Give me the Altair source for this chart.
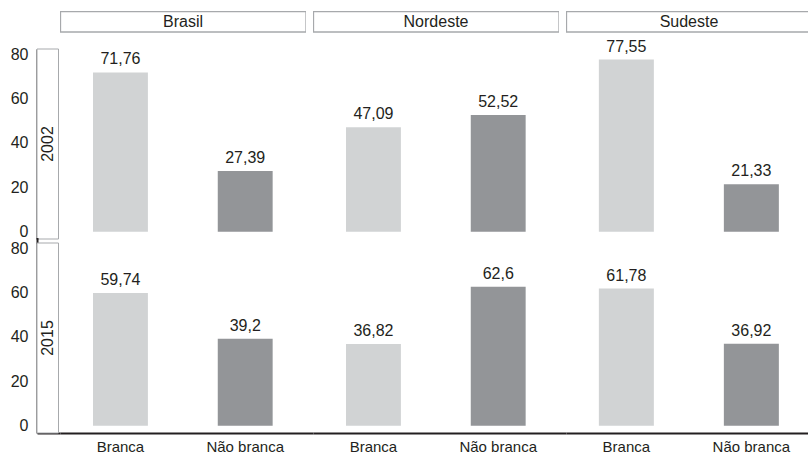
import altair as alt
import pandas as pd

# Share of population by colour group, per region and year
regioes = ["Brasil", "Nordeste", "Sudeste"]
anos = ["2002", "2015"]
grupos = ["Branca", "Não branca"]

brasil_2002 = [71.76, 27.39]
nordeste_2002 = [47.09, 52.52]
sudeste_2002 = [77.55, 21.33]
brasil_2015 = [59.74, 39.2]
nordeste_2015 = [36.82, 62.6]
sudeste_2015 = [61.78, 36.92]

series = {
    ("Brasil", "2002"): brasil_2002,
    ("Nordeste", "2002"): nordeste_2002,
    ("Sudeste", "2002"): sudeste_2002,
    ("Brasil", "2015"): brasil_2015,
    ("Nordeste", "2015"): nordeste_2015,
    ("Sudeste", "2015"): sudeste_2015,
}

rows = []
for (reg, ano), vals in series.items():
    for g, v in zip(grupos, vals):
        rows.append({"regiao": reg, "ano": ano, "grupo": g, "valor": v,
                     "rotulo": f"{v:g}".replace(".", ",")})
df = pd.DataFrame(rows)

INK = "#231f20"
LIGHT = "#d1d3d4"
DARK = "#939598"
BOX = "#a7a9ac"
FONT = "Liberation Sans"
FS = 16
FS_X = 15

PANEL_H = 190
ROW_GAP = 4
HEAD_H = 34        # header cell: 21px box plus the gap above the first row
LABEL_W = 23
Y_DOMAIN = [-3.3, 82.3]
y_scale = alt.Scale(domain=Y_DOMAIN, nice=False, zero=False)


def panel(reg, ano, width, bottom, outer, align):
    d = df[(df.regiao == reg) & (df.ano == ano)]
    if bottom:
        x_axis = alt.Axis(title=None, labelAngle=0, ticks=False, domain=True,
                          domainColor=INK, domainWidth=2, labelFontSize=FS_X,
                          labelPadding=6, labelColor=INK, labelFont=FONT)
    else:
        x_axis = None
    x = alt.X("grupo:N", sort=grupos, axis=x_axis,
              scale=alt.Scale(domain=grupos, paddingInner=0.56,
                              paddingOuter=outer, align=align))
    y = alt.Y("valor:Q", scale=y_scale, axis=None)
    base = alt.Chart(d)
    bars = base.mark_bar().encode(
        x=x, y=y, y2=alt.datum(0),
        color=alt.Color("grupo:N", scale=alt.Scale(domain=grupos, range=[LIGHT, DARK]),
                        legend=None),
    )
    text = base.mark_text(baseline="bottom", dy=-5, fontSize=FS, font=FONT,
                          color=INK).encode(x=x, y=y, text="rotulo:N")
    return alt.layer(bars, text).properties(width=width, height=PANEL_H)


def row_label(ano, bottom):
    d = pd.DataFrame({"ano": [ano]})
    y = alt.YDatum(sum(Y_DOMAIN) / 2, type="quantitative", scale=y_scale,
                   axis=alt.Axis(values=[0, 20, 40, 60, 80], title=None, ticks=False,
                                 grid=False, domain=True, domainColor=INK,
                                 domainWidth=2, labelFontSize=FS, labelFont=FONT,
                                 labelColor=INK, labelPadding=9))
    box = alt.Chart(d).mark_rect(fill="white", stroke=BOX, strokeWidth=1).encode(
        x=alt.value(0), x2=alt.value(21.5), y=alt.value(0), y2=alt.value(PANEL_H)
    )
    label = alt.Chart(d).mark_text(angle=270, fontSize=FS, font=FONT, color=INK).encode(
        x=alt.value(11), y=y, text="ano:N"
    )
    layers = [box, label]
    if bottom:
        # invisible point that carries the bottom axis line under the label column
        x = alt.XDatum(0.5, type="quantitative",
                       scale=alt.Scale(domain=[0, 1], nice=False),
                       axis=alt.Axis(labels=False, ticks=False, grid=False, title=None,
                                     domain=True, domainColor=INK, domainWidth=2))
        layers.append(alt.Chart(d).mark_point(opacity=0, size=1).encode(x=x, y=y))
    else:
        # keep the left axis line unbroken across the gap between the two rows
        layers.append(alt.Chart(d).mark_rule(color=INK, strokeWidth=2).encode(
            x=alt.value(0.5), y=alt.value(PANEL_H - 1), y2=alt.value(PANEL_H + ROW_GAP + 1)
        ))
    return alt.layer(*layers).properties(width=LABEL_W, height=PANEL_H)


def header(reg, width, box_w):
    d = pd.DataFrame({"regiao": [reg]})
    box = alt.Chart(d).mark_rect(fill="white", stroke=BOX, strokeWidth=1.3,
                                 clip=True).encode(
        x=alt.value(0.5), x2=alt.value(box_w), y=alt.value(0.5), y2=alt.value(21)
    )
    txt = alt.Chart(d).mark_text(fontSize=FS, font=FONT, color=INK).encode(
        x=alt.value(box_w / 2), y=alt.value(11), text="regiao:N"
    )
    return alt.layer(box, txt).properties(width=width, height=HEAD_H)


spacer = alt.Chart(pd.DataFrame({"a": [0]})).mark_point(opacity=0, size=1).encode(
    x=alt.value(5), y=alt.value(5)
).properties(width=LABEL_W, height=HEAD_H)

# panel width, header box width, band outer padding, band alignment
layout = {"Brasil": (253, 246, 0.294, 0.45),
          "Nordeste": (253, 246, 0.294, 0.45),
          "Sudeste": (242, 246, 0.248, 0.53)}

cells = [spacer]
for reg in regioes:
    w, bw, _, _ = layout[reg]
    cells.append(header(reg, min(bw, w), bw))
for ano, bottom in [("2002", False), ("2015", True)]:
    cells.append(row_label(ano, bottom))
    for reg in regioes:
        w, _, outer, align = layout[reg]
        cells.append(panel(reg, ano, w, bottom, outer, align))

chart = alt.concat(
    *cells, columns=4, spacing=alt.RowColnumber(row=ROW_GAP, column=0),
    bounds="flush", align="each",
).properties(
    padding={"left": 10, "top": 11, "right": 0, "bottom": 0}
).configure(
    font=FONT, view=alt.ViewConfig(stroke="transparent", strokeWidth=0)
)

chart.save("out.html", embed_options={"renderer": "svg", "actions": False})
